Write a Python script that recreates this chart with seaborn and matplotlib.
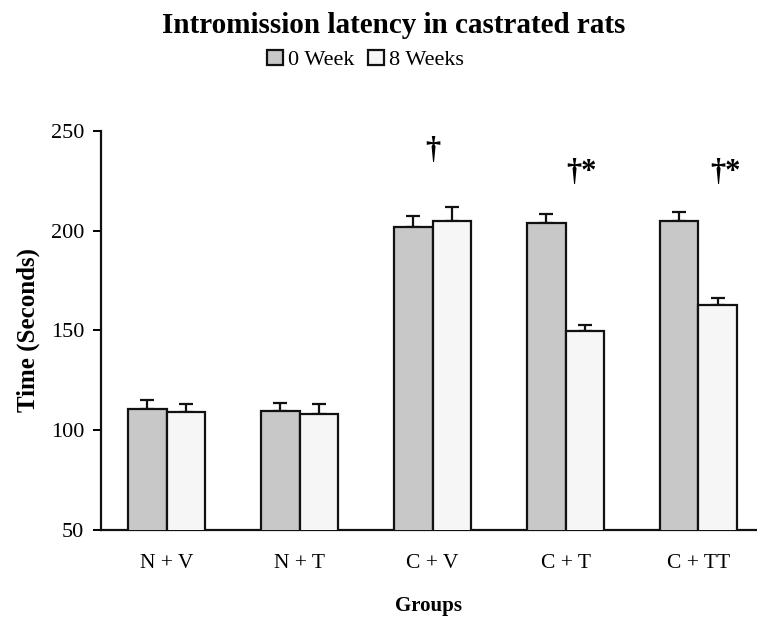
import pandas as pd
import matplotlib.pyplot as plt
import seaborn as sns

# === DATA ===
groups = ["N + V", "N + T", "C + V", "C + T", "C + TT"]
series = ["0 Week", "8 Weeks"]
week0_mean = [110.8, 109.8, 202, 204, 205]
week0_err = [4.5, 3.9, 5.5, 4.5, 4.6]
week8_mean = [109, 108.1, 204.9, 149.8, 162.8]
week8_err = [4, 4.9, 7.1, 3, 3.3]
marks = ["", "", "\u2020", "\u2020*", "\u2020*"]
mark_y = [0, 0, 240, 229, 229]
mark_dx = [0, 0, 0.0, 0.12, 0.2]

sns.set_theme(style="white")
plt.rcParams["font.family"] = ["Liberation Serif", "DejaVu Serif"]
plt.rcParams["text.color"] = "black"
plt.rcParams["axes.labelcolor"] = "black"
plt.rcParams["xtick.color"] = "black"
plt.rcParams["ytick.color"] = "black"

df = pd.DataFrame({
    "group": groups * 2,
    "series": [series[0]] * len(groups) + [series[1]] * len(groups),
    "value": week0_mean + week8_mean,
})
errs = [week0_err, week8_err]
means = [week0_mean, week8_mean]

fig = plt.figure(figsize=(7.57, 6.17), dpi=100)
ax = fig.add_axes([0.1334, 0.141, 0.8666, 0.6467])

sns.barplot(data=df, x="group", y="value", hue="series", order=groups,
            hue_order=series, palette=["#c8c8c8", "#f6f6f6"], width=0.58,
            errorbar=None, edgecolor="#111111", linewidth=1.6, gap=0,
            saturation=1, ax=ax, zorder=3)

# upper-only error bars at the bar centres
for cont, m, e in zip(ax.containers, means, errs):
    xs = [p.get_x() + p.get_width() / 2 for p in cont.patches]
    ax.errorbar(xs, m, yerr=[[0] * len(e), e], fmt="none", ecolor="#111111",
                elinewidth=1.6, capsize=5, capthick=1.6, zorder=2)

# significance marks
for i, txt in enumerate(marks):
    if txt:
        ax.text(i + mark_dx[i], mark_y[i], txt, ha="center", va="center",
                fontsize=22, fontweight="bold")

ax.set_ylim(50, 250)
ax.set_xlim(-0.494, 4.44)
ax.set_yticks([50, 100, 150, 200, 250])
ax.tick_params(axis="y", length=6, width=1.4, labelsize=16, left=True, pad=6)
ax.tick_params(axis="x", length=0, labelsize=15.5, pad=17)
for s in ["top", "right"]:
    ax.spines[s].set_visible(False)
for s in ["left", "bottom"]:
    ax.spines[s].set_color("#111111")
    ax.spines[s].set_linewidth(1.6)

ax.set_xlabel("Groups", fontsize=15, fontweight="bold", labelpad=17)
ax.set_ylabel("Time (Seconds)", fontsize=18, fontweight="bold", labelpad=8)

ax.legend(loc="center", bbox_to_anchor=(0.483, 0.903), bbox_transform=fig.transFigure,
          ncol=2, frameon=False, fontsize=16, handlelength=0.7, handleheight=0.7,
          handletextpad=0.25, columnspacing=0.6, borderaxespad=0, borderpad=0)
fig.text(0.52, 0.9465, "Intromission latency in castrated rats", ha="center",
         va="baseline", fontsize=21, fontweight="bold")

fig.savefig("out.png", dpi=100)
